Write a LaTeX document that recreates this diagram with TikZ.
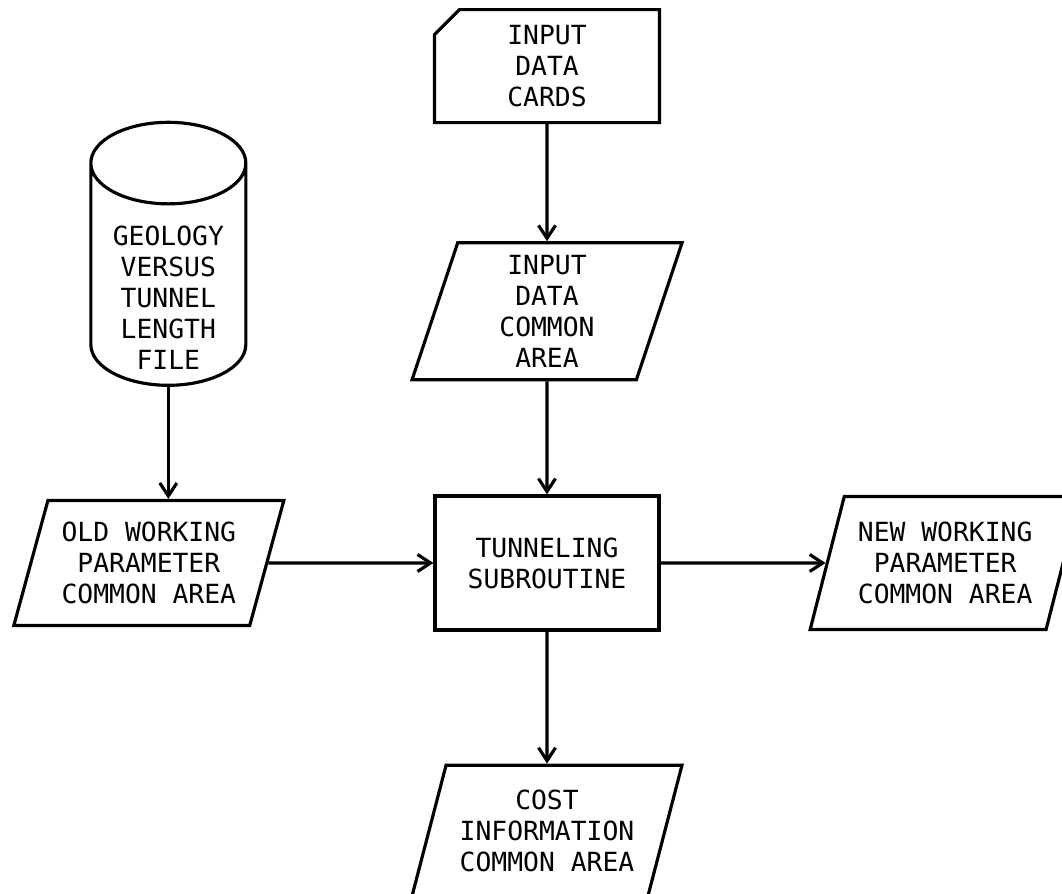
\documentclass[tikz,border=0pt]{standalone}
\usepackage{fontspec}
\newfontfamily\flowfont{DejaVu Sans Mono}
\usetikzlibrary{shapes.geometric, shapes.misc, arrows.meta, positioning}

\begin{document}
\begin{tikzpicture}[node distance=2.3cm, >={Straight Barb[length=2.6mm,width=3.4mm]},
    every node/.style={font=\flowfont\fontsize{15pt}{17.6pt}\selectfont, align=center},
    base/.style={draw, line width=1.8pt, inner sep=2pt},
    block/.style={base, rectangle, minimum width=4.48cm, minimum height=2.68cm},
    iodata/.style={base, trapezium, trapezium left angle=69, trapezium right angle=111, trapezium stretches body, minimum width=5.4cm, minimum height=2.66cm},
    card/.style={base, chamfered rectangle, chamfered rectangle corners=north west, chamfered rectangle xsep=0.4cm, minimum width=4.5cm, minimum height=2.26cm},
    disk/.style={base, cylinder, shape border rotate=90, aspect=11.6, minimum width=3.1cm, minimum height=5.26cm},
    link/.style={->, line width=1.8pt}]

    \useasboundingbox (0,0) rectangle (21.24,-17.88);

    % Sous-programme
    \node[block] (tunnel) at (10.94,-11.26) {TUNNELING\\SUBROUTINE};

    % Entrees
    \node[iodata, above=2.26cm of tunnel, minimum height=2.74cm] (inputarea) {INPUT\\DATA\\COMMON\\AREA};
    \node[card, above=2.34cm of inputarea] (cards) {INPUT\\DATA\\CARDS};

    % Parametres et fichier
    \node[iodata, left=3.3cm of tunnel, minimum height=2.5cm] (oldarea) {OLD WORKING\\PARAMETER\\COMMON AREA};
    \node[disk, above=2.24cm of oldarea, xshift=0.39cm, label={[yshift=-0.34cm]center:GEOLOGY\\VERSUS\\TUNNEL\\LENGTH\\FILE}] (geofile) {};

    % Sorties
    \node[iodata, right=3.3cm of tunnel] (newarea) {NEW WORKING\\PARAMETER\\COMMON AREA};
    \node[iodata, below=2.64cm of tunnel, minimum height=2.62cm] (costarea) {COST\\INFORMATION\\COMMON AREA};

    % Liens
    \draw[link] (cards) -- (inputarea);
    \draw[link] (inputarea) -- (tunnel);
    \draw[link] (geofile.south) -- (geofile.south |- oldarea.north);
    \draw[link] (oldarea) -- (tunnel);
    \draw[link] (tunnel) -- (newarea);
    \draw[link] (tunnel) -- (costarea);

\end{tikzpicture}
\end{document}
